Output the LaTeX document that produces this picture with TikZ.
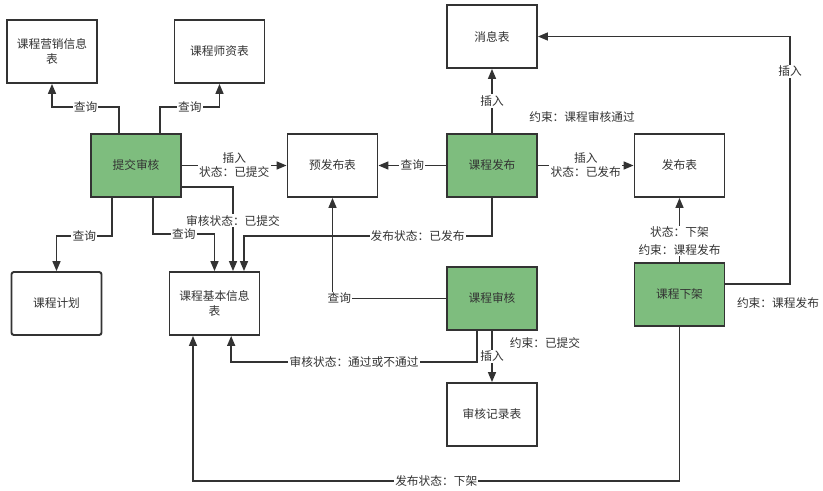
\documentclass[tikz,border=0pt]{standalone}
\usepackage{fontspec}
\newfontfamily\cjk{Noto Sans CJK SC}
\usetikzlibrary{arrows.meta}
\definecolor{procgreen}{RGB}{126,189,126}
\definecolor{ink}{RGB}{51,51,51}

\begin{document}
\begin{tikzpicture}[
      x=0.3mm, y=-0.3mm,
      every node/.style={font=\cjk\fontsize{10}{12}\selectfont, text=ink},
      tbl/.style={draw=ink, line width=1.6pt, fill=white, minimum width=27mm, minimum height=18.9mm, align=center, inner sep=2pt},
      proc/.style={tbl, fill=procgreen},
      flow/.style={draw=ink, line width=1.3pt, -{Triangle[length=3mm,width=2.4mm]}},
      lbl/.style={fill=white, inner sep=1pt, align=center}
    ]
    \useasboundingbox (0,0) rectangle (823,491);

    % tables
    \node[tbl] (mkt) at (52,51.5) {课程营销信息\\表};
    \node[tbl] (tch) at (219.5,51.5) {课程师资表};
    \node[tbl] (pre) at (332.5,165.5) {预发布表};
    \node[tbl] (msg) at (492,36.5) {消息表};
    \node[tbl] (rel) at (679.5,165.5) {发布表};
    \node[tbl, rounded corners=2pt] (plan) at (56.5,303.5) {课程计划};
    \node[tbl] (base) at (214.5,303.5) {课程基本信息\\表};
    \node[tbl] (rec) at (492,414.5) {审核记录表};

    % processes
    \node[proc] (submit) at (136,165.5) {提交审核};
    \node[proc] (pub) at (492,165.5) {课程发布};
    \node[proc] (audit) at (492,298.5) {课程审核};
    \node[proc] (down) at (679.5,294.5) {课程下架};

    \coordinate (rt) at (790,36.5);

    % 提交审核
    \draw[flow] ([xshift=-5.1mm]submit.north) -- ++(0,-26) -| node[lbl, pos=.25] {查询} (mkt.south);
    \draw[flow] ([xshift=7.2mm]submit.north) -- ++(0,-26) -| node[lbl, pos=.25] {查询} (tch.south);
    \draw[flow] (submit) -- node[lbl] {插入\\状态：已提交} (pre);
    \draw[flow] ([yshift=-6.45mm]submit.east) -| node[lbl, pos=.7] {审核状态：已提交} ([xshift=5.55mm]base.north);
    \draw[flow] ([xshift=-7.2mm]submit.south) -- ++(0,38) -| node[lbl, pos=.25] {查询} (plan.north);
    \draw[flow] ([xshift=5.1mm]submit.south) -- ++(0,36) -| node[lbl, pos=.25] {查询} (base.north);

    % 课程发布
    \draw[flow] (pub) -- node[lbl] {查询} (pre);
    \draw[flow] (pub) -- node[lbl] {插入} (msg);
    \draw[flow] (pub) -- node[lbl] {插入\\状态：已发布} (rel);
    \draw[flow] (pub.south) -- ++(0,38) -| node[lbl, pos=.15] {发布状态：已发布} ([xshift=8.85mm]base.north);
    \node at (582,117) {约束：课程审核通过};

    % 课程审核
    \draw[flow] (audit) -| node[lbl, pos=.47] {查询} (pre.south);
    \draw[flow] ([xshift=-4.5mm]audit.south) -- ++(0,31) -| node[lbl, pos=.25] {审核状态：通过或不通过} ([xshift=5mm]base.south);
    \draw[flow] (audit) -- node[lbl] {插入} (rec);
    \node at (545,343) {约束：已提交};

    % 课程下架
    \draw[flow] (down) -- node[lbl, pos=.33] {状态：下架\\[3pt]约束：课程发布} (rel);
    \draw[flow] ([yshift=3.15mm]down.east) -| node[lbl, pos=.93] {插入} (rt) -- (msg.east);
    \node at (778,303) {约束：课程发布};
    \draw[flow] (down.south) -- ++(0,154) -| node[lbl, pos=.25] {发布状态：下架} ([xshift=-6.45mm]base.south);

\end{tikzpicture}
\end{document}
